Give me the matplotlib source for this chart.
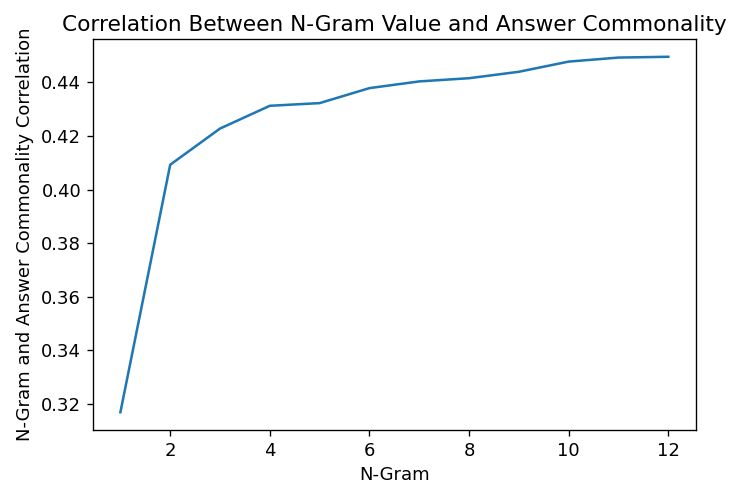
import matplotlib
matplotlib.use('Agg')
import matplotlib.pyplot as plt

# Correlation of each n-gram size with how common the answer is
ngram = [1, 2, 3, 4, 5, 6, 7, 8, 9, 10, 11, 12]
correlation = [0.3169, 0.4093, 0.4228, 0.4313, 0.4323, 0.4379,
               0.4404, 0.4416, 0.4440, 0.4478, 0.4493, 0.4496]

scale = 1.69 * 72 / 100  # notebook-sized figure blown up to 730px wide
fscale = scale * 1.065   # hinted text at small sizes runs a bit wide
plt.rcParams['font.family'] = 'DejaVu Sans'
plt.rcParams['font.size'] = 10 * fscale
plt.rcParams['axes.linewidth'] = 0.8 * scale
plt.rcParams['xtick.major.size'] = 3.5 * scale
plt.rcParams['ytick.major.size'] = 3.5 * scale
plt.rcParams['xtick.major.width'] = 0.8 * scale
plt.rcParams['ytick.major.width'] = 0.8 * scale
plt.rcParams['xtick.major.pad'] = 3.5 * scale
plt.rcParams['ytick.major.pad'] = 3.5 * scale

fig = plt.figure(figsize=(7.3, 4.87), dpi=100)
ax = fig.add_axes([93 / 730, 57 / 487, 602.7 / 730, 391 / 487])

ax.plot(ngram, correlation, color='#1f77b4', linewidth=1.5 * scale)

ax.set_title('Correlation Between N-Gram Value and Answer Commonality',
             fontsize=12 * fscale, pad=5 * scale)
ax.set_xlabel('N-Gram', labelpad=3.5 * scale)
ax.set_ylabel('N-Gram and Answer Commonality Correlation', labelpad=4 * scale)

plt.savefig('out.png', dpi=100)
